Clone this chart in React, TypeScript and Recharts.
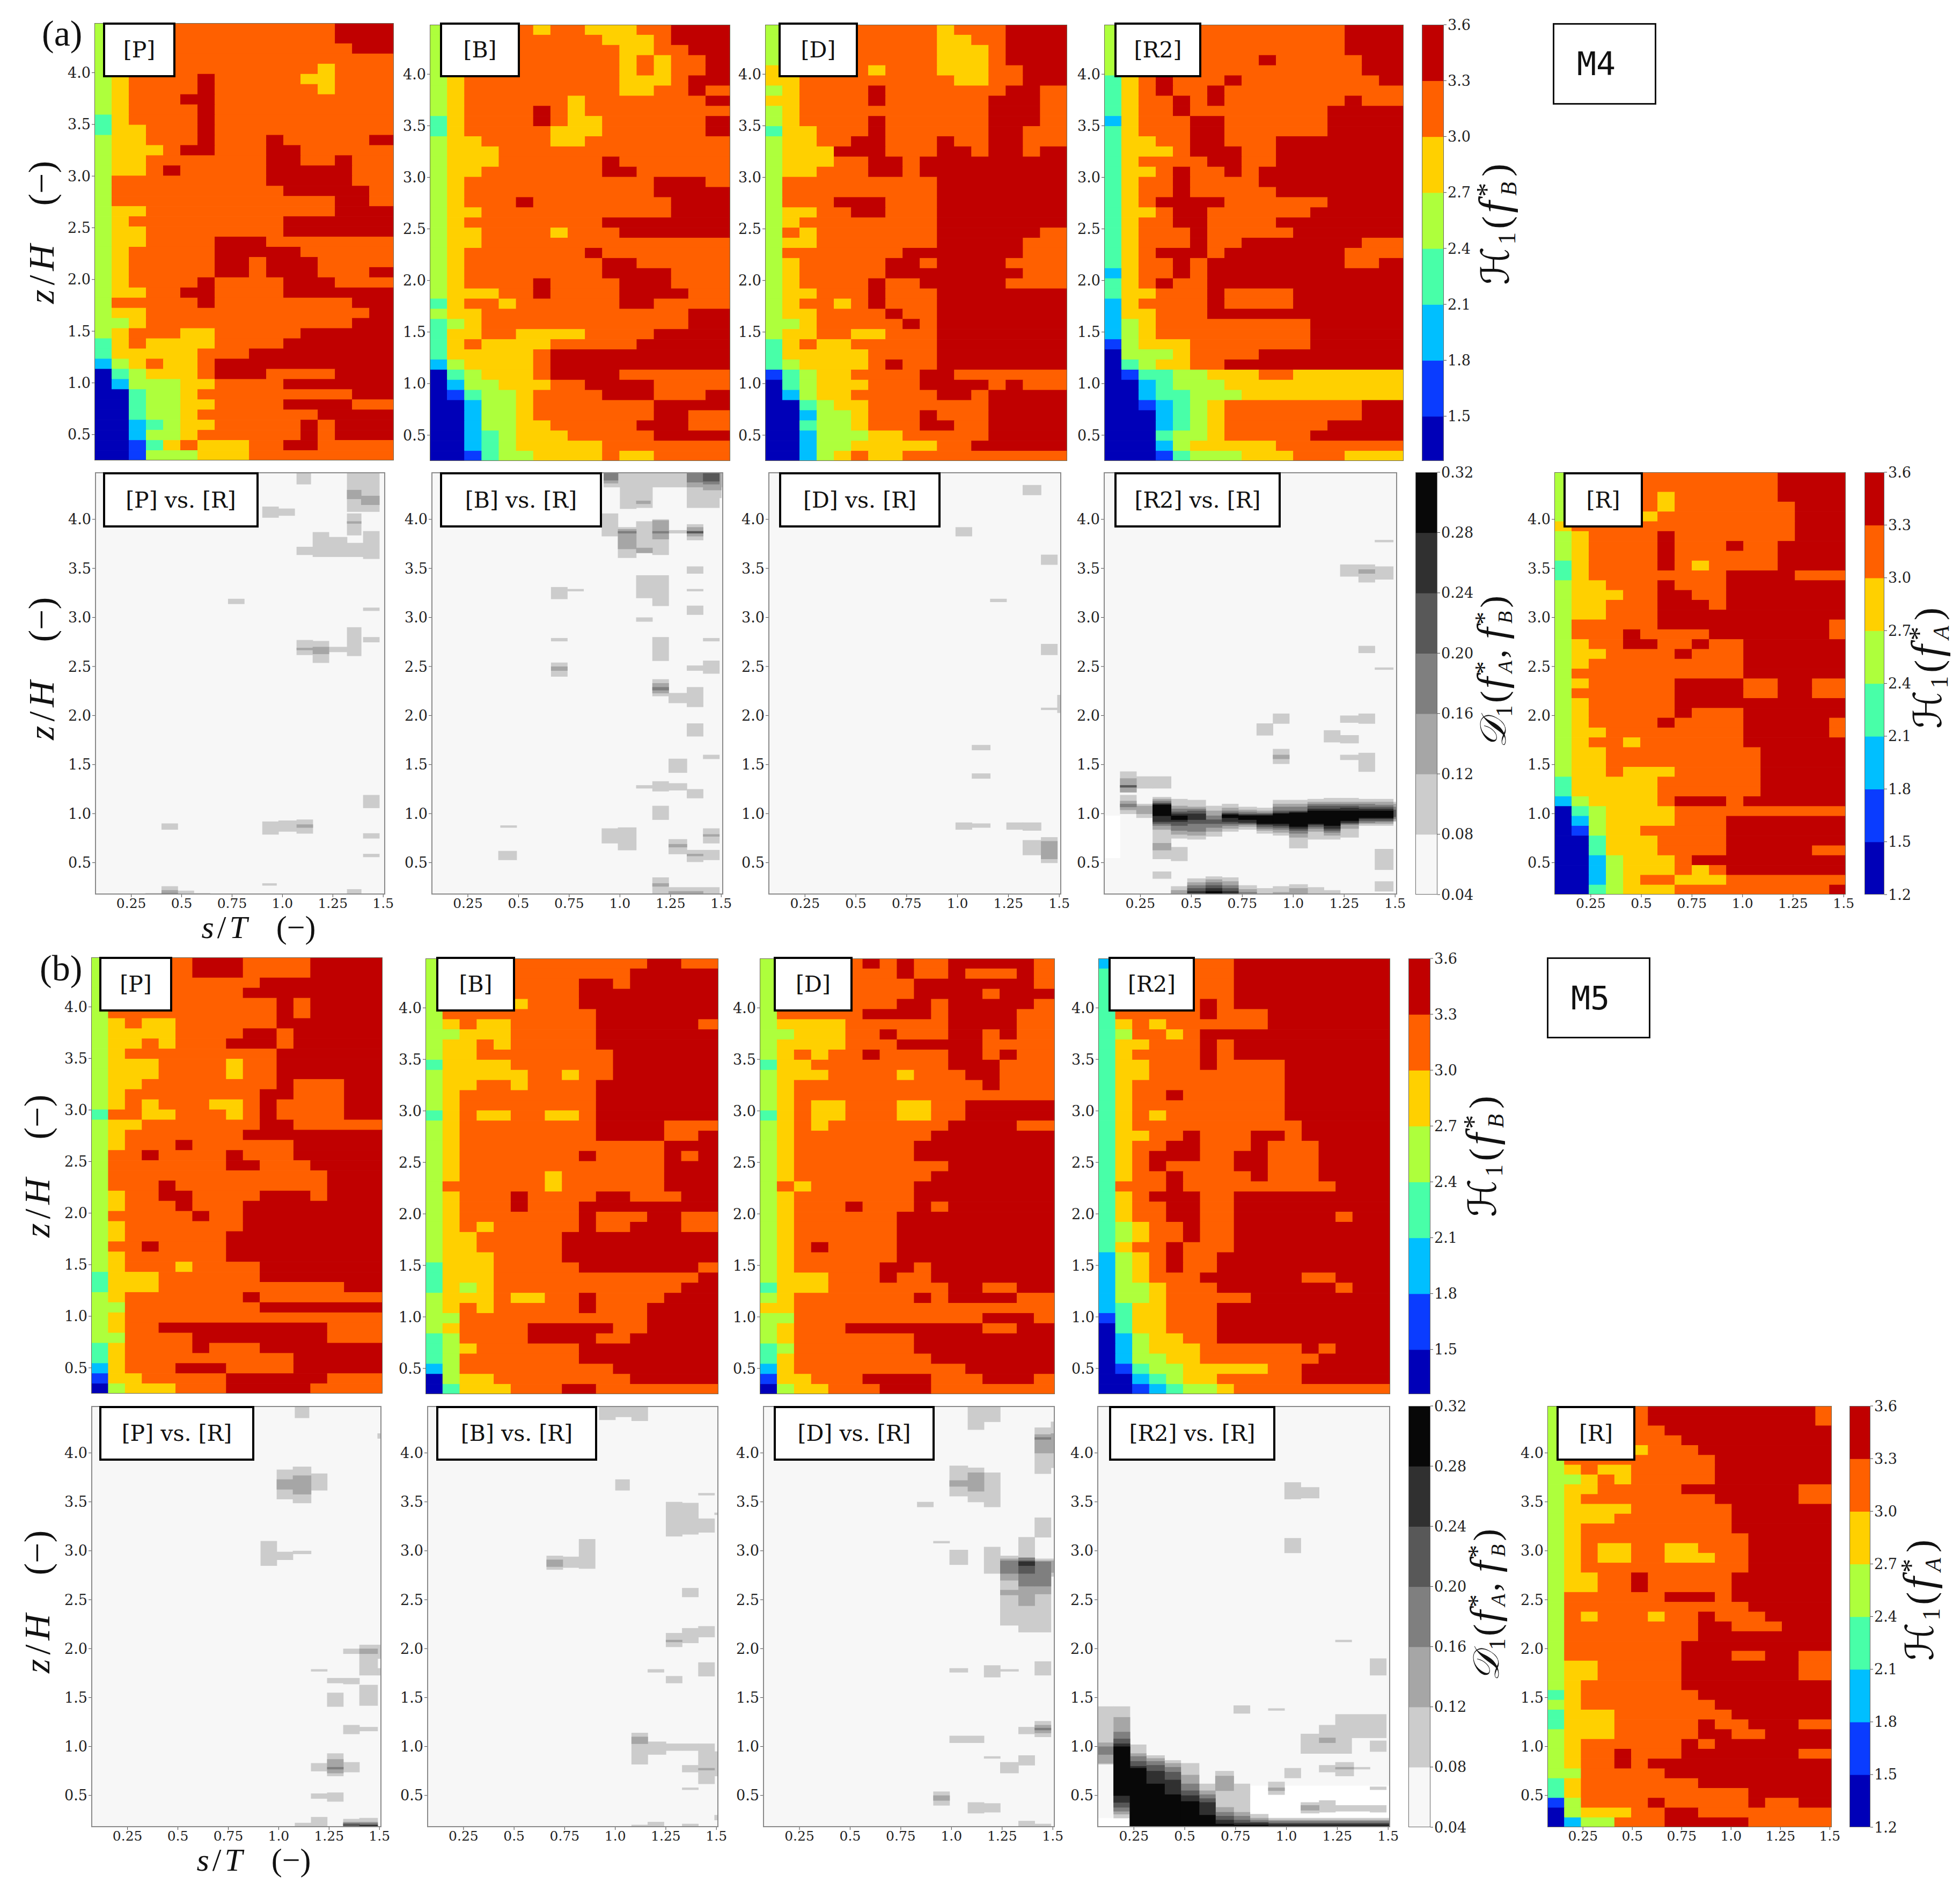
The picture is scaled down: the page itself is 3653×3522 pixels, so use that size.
import { ScatterChart, Scatter, XAxis, YAxis } from "recharts";

// H1 level per cell (top row first, left column first). 0..7 = bands from 1.2 to 3.6
const H_COLORS = ["#0000b8", "#0a3cff", "#00bfff", "#48ffa8", "#aeff3c", "#ffd000", "#ff6000", "#c00000"];
// D1 bands: 1..6 above the base, 7 = below 0.04
const D_COLORS = ["#f7f7f7", "#cccccc", "#a6a6a6", "#7f7f7f", "#585858", "#303030", "#080808", "#ffffff"];

const sTicks = [0.25, 0.5, 0.75, 1.0, 1.25, 1.5];
const sTickLabels = ["0.25", "0.5", "0.75", "1.0", "1.25", "1.5"];
const zTicks = [0.5, 1.0, 1.5, 2.0, 2.5, 3.0, 3.5, 4.0];
const hBarTicks = [1.5, 1.8, 2.1, 2.4, 2.7, 3.0, 3.3, 3.6];
const hBarTicksFull = [1.2, 1.5, 1.8, 2.1, 2.4, 2.7, 3.0, 3.3, 3.6];
const dBarTicks = [0.04, 0.08, 0.12, 0.16, 0.2, 0.24, 0.28, 0.32];

const aP = [
  "466666666666667777","466666666666667777","466666666666666777","466666666666666666","466666666666656666",
  "456666766666556666","456666766666656666","456667766666666666","456666766666666666","356666766666666666",
  "355666766666666666","455666766676666677","455567766677666666","455666666677667666","455676666677777666",
  "466666666677777666","466666666667777766","466666666666667766","455666666666667777","456666666667777777",
  "455666666667777777","455666677766666666","456666677777666666","456666677677766666","456666677677766677",
  "456666766667776666","455667766667777777","466666766666666777","455666666666666677","445666666666666777",
  "456665566666777777","356555566667777777","355555666777777777","245655677777777777","034555677766667777",
  "024445566667777777","003445666666666777","003445566667777666","003445666666677777","002345566666767777",
  "002445666666767777","001356555667766666","001444555666666666",
];
const aB = [
  "466666566555667777","466666666655567777","466666666665566777","466666666665656677","466666666665656677",
  "456666666665556777","456666666665566766","456666665666666677","456666765666666666","356666765566666677",
  "356666655566666677","455666655666666666","455566666666666666","455566666676666666","455666666677666666",
  "456666666666677766","456666666666677777","456667666666667777","455666666666667777","456666666677777777",
  "455666656667777777","455666666666666666","456666666766666666","456666666677666666","456666666677776666",
  "456666766667776666","455566766667777666","356656666667766666","455666666666666777","345666666666666777",
  "355665555666677777","356555566666777777","355555677777777777","245555677777777777","034555677776666666",
  "024455566777766666","013445666677766677","002445666666677777","002445666666677666","002445566666777666",
  "002345556666677777","002345555566666666","001344555565566666",
];
const aD = [
  "466666666656667777","466666666655667777","466666666655567777","466666666655567777","566666566655566777",
  "556666666665566777","456666766666667766","556666766666677766","456666666666677766","456666766666677766",
  "355666766666677666","455667766676677666","455577766677677677","455566776777777777","455666776777777777",
  "466666666677777777","466666666677777777","466677766677777777","455667766677777777","456666666677777777",
  "465666666677777766","455666666677777666","466666667777777666","456666677677776666","456666677777777666",
  "456666766777776666","455666766677777777","456656766677777777","455666676677777777","445666667677777777",
  "455665566677777777","356556666677777777","355555666677777777","345555676677777777","134556666776666666",
  "034555666777767666","024556666677677777","003455666666677777","002445666766677777","003445666776677777",
  "002444556666677777","002445555566777777","002456556666666666",
];
const aR2 = [
  "466666666666667777","466666666666667777","466666666666667777","466666666766666777","466666666666666777",
  "356766676666666677","356766766666666666","356676766666667666","356676666666677777","256667766666677777",
  "356667766666677777","355667766677777777","355567776677777777","356666776677777777","355676676777777777",
  "356676666777777777","356676666677777777","356777766666677777","355677666666777777","356677666677777777",
  "356667666667777777","356667667777777666","356777677777776666","356676777777776677","256676777777777777",
  "356766777777777777","355666766667777777","256666766667777777","255666777777777777","245666666666777777",
  "245666666666777777","145556666666777777","044456666777777777","034556677777777777","013344555665555555",
  "002344455555555555","002334445555555555","001234566666666777","000234566666666777","000234566666677777",
  "000344566666777777","000245555566666666","000134445556665555",
];
const aR = [
  "46666666666667777","46666666666667777","46666656666667777","46666656666666777","46666566666666777",
  "56666666666666777","45666676666666777","45666676667667777","45666676666667777","35666676566667777",
  "35666666667777666","45566676667777777","45556677667777777","45566677767777777","45566677777777777",
  "46666677777777776","46667666677777776","45667766766777777","45566667666777777","45666666666777777",
  "46666666666777777","45666667777667766","46666667777667766","45666667777777777","45666667666777777",
  "45666676666777776","45566666666777776","45665666666777777","45566666666677777","45566666666677777",
  "45565556666677777","35555566666677777","35555566666677777","24555567776777777","03455556666666666",
  "02455556667777777","01455666667777777","00355566667777777","00355566667777766","00245556777777777",
  "00245556567777777","00245665556666666","00345556666666667",
];
const bP = [
  "466666777666677777","466666777666677777","466666666677777777","466666666777777777","466666666667677777",
  "466666666667677777","456556666667777777","455556666776777777","455656667776777777","456666666667777777",
  "455566665667777777","455566665667777777","455666666667666777","456666666677666777","456566655676666777",
  "366556665676666777","455666666677666666","456666666777777777","456667666666777777","466766667666777777",
  "466666667766677777","466666666666667777","466676666666667777","456677666677767777","456667666777777777",
  "466666766777777777","456666666777777777","456666667777777777","466766667777777777","456666667777777777",
  "456665666677777777","355566666677777777","355566666666666777","456666666766666666","446666666677777777",
  "456666666666666666","456677777777776666","446666777777776666","356666766677777777","356666666666777777",
  "256667776666777777","155666667777776666","045556667777766666",
];
const bB = [
  "466666666666677666","466666666666777777","466666666776777777","466666666777777777","466665666777777777",
  "466666666677777777","456556666677777766","445556666677777777","455656666677777777","455666666667777777",
  "355556666667777777","455555665667777777","455665666677777777","456666666677777777","456666666677777777",
  "356556655677777777","456666666677776666","456666666677776677","456666666666667777","456666666766667677",
  "456666666666667777","456666656666667777","466666656666667777","456667666677666777","456667666777777777",
  "456666666766677666","456566666766777666","455666667777777777","455666667777777777","455566667777777777",
  "355566666777777766","355566666666666677","354566666666666777","455565566766667777","456566666766677777",
  "446666666666677777","456666777776677777","346666777766777777","345666666777777777","346666666777777777",
  "246666666667777777","045566666666777777","035556667766666666",
];
const bD = [
  "466666767667777766","466666667667666766","466666666777777766","466666666777767777","466666667767777766",
  "466666777767777666","455556666667777666","445556676667767666","455556667777766666","456566766667767666",
  "355666666667776666","455566665666776666","456666666666676666","456666666666666666","456556665566777777",
  "356556665566777777","456566666667777666","456666666677777777","456666666777777777","456666666777777777",
  "456666666667777777","456666666677777777","465666666777777777","456666666777777777","456667666767777777",
  "456666667777777777","456666667777777777","456666667777777777","456766667777777777","456666667777777777",
  "456666677677777777","455566676677777777","355566666667766777","456666666767777666","556666666666666666",
  "446666666666677766","456667777777766777","456666666777777777","346666666777777777","356666666677777777",
  "256666666666777777","155666777766677766","045566677766666666",
];
const bR2 = [
  "266666667777777777","366666667777777777","366666667777777777","366666667777777777","366666767777777777",
  "366666766677777777","356566666677777777","346656777777777777","355666767777777777","356666767777777777",
  "355666766667777777","355666666667777777","356666666667777777","356676666667777777","356666666667777777",
  "356566666667777777","356666666666777777","355667666776777777","356677666766677777","356777667766677777",
  "356766667766677777","356676666766677777","366676666666667777","356777667777777777","356677667777777777",
  "356677667777776777","345667667777777777","345667667777777777","356676667777777777","245676677777777777",
  "245676677777777777","245666777777667777","244566677777776777","244566666777777777","235566677777777777",
  "135566677777777777","035566677777777777","024556677777777777","024555666666767777","024455666666677777",
  "013445555566777777","002345566666777777","001234456666666666",
];
const bR = [
  "46666677777777776","46666677777777776","46666667777777777","46666666777777777","46666566677777777",
  "46666666667777777","45655666667777777","44565666667777777","45566666777777766","45666666667777766",
  "45555666666777777","45556666666777777","45666666666777777","45666666666677777","45655665566677777",
  "45655665556677777","45666666666677777","45566766666777777","45566766666777777","46666667776777777",
  "46666666666677777","46566656676667777","46666666677666777","46666666677777777","46666666777777777",
  "46666666777667766","45566666777777766","45566666777777766","45666666777777777","35666666677777777",
  "45666666667777777","35556666666777777","35556666676677766","45556666677667777","45666666767777777",
  "45667666777777766","45667677777777777","44666667777777777","35666666677777777","35666666666677777",
  "14666676666676677","04555667766666666","02446667777766666",
];

// D1 patches: [s from, s to, z from, z to, band]
const aPvR = [
  [1.07,1.14,4.36,4.48,1],[1.32,1.48,4.08,4.48,1],[1.32,1.39,4.21,4.3,2],[1.39,1.48,4.15,4.24,2],[0.9,0.98,4.02,4.13,1],[0.98,1.06,4.04,4.11,1],
  [1.32,1.39,3.84,4.06,1],[1.32,1.39,3.96,3.98,2],[1.07,1.15,3.64,3.72,1],[1.15,1.23,3.62,3.87,1],[1.23,1.32,3.62,3.82,1],[1.32,1.4,3.62,3.76,1],[1.4,1.48,3.6,3.88,1],
  [0.73,0.81,3.14,3.19,1],[1.4,1.48,3.07,3.1,1],[1.32,1.39,2.61,2.9,1],[1.4,1.48,2.75,2.8,1],[1.07,1.15,2.62,2.77,1],[1.15,1.23,2.54,2.76,1],[1.15,1.23,2.63,2.7,2],
  [1.23,1.32,2.65,2.7,1],[1.07,1.15,2.67,2.69,2],[1.4,1.48,1.06,1.19,1],[0.4,0.48,0.84,0.9,1],[0.9,0.98,0.79,0.92,1],[0.98,1.07,0.82,0.93,1],[1.07,1.15,0.8,0.94,1],[1.07,1.15,0.86,0.89,2],
  [1.4,1.48,0.75,0.8,1],[1.4,1.48,0.56,0.59,1],[0.9,0.97,0.27,0.29,1],[0.4,0.48,0.175,0.26,1],[0.4,0.48,0.175,0.22,2],[0.4,0.48,0.175,0.19,3],[0.32,0.4,0.175,0.19,1],[0.48,0.56,0.175,0.215,1],[0.56,0.64,0.175,0.19,1],[1.32,1.39,0.175,0.23,1],
];
const aBvR = [
  [0.92,1.51,4.33,4.48,1],[0.92,0.99,4.37,4.48,2],[0.92,0.99,4.4,4.48,3],[1.33,1.41,4.28,4.48,1],[1.33,1.41,4.33,4.48,2],[1.33,1.41,4.38,4.48,3],[1.41,1.5,4.22,4.48,1],[1.41,1.5,4.3,4.48,2],[1.41,1.49,4.36,4.48,3],[1.41,1.49,4.39,4.48,4],
  [1.0,1.08,4.11,4.33,1],[1.08,1.16,4.12,4.33,1],[1.08,1.15,4.16,4.19,2],[1.33,1.49,4.12,4.3,1],[0.91,0.99,3.83,4.06,1],[0.99,1.08,3.61,3.92,1],[0.99,1.08,3.7,3.9,2],[0.99,1.08,3.86,3.88,3],[1.08,1.16,3.66,3.98,1],[1.08,1.16,3.66,3.71,2],
  [1.16,1.24,3.64,4.0,1],[1.16,1.24,3.8,3.99,2],[1.16,1.24,3.86,3.88,3],[1.24,1.33,3.86,3.89,1],[1.33,1.41,3.79,3.95,1],[1.33,1.41,3.83,3.92,2],[1.33,1.41,3.86,3.88,4],
  [1.33,1.41,3.45,3.52,1],[1.08,1.16,3.2,3.43,1],[1.16,1.24,3.12,3.43,1],[0.66,0.74,3.19,3.31,1],[0.74,0.82,3.27,3.29,1],[1.33,1.41,3.27,3.29,1],[1.33,1.41,3.03,3.12,1],[1.08,1.16,2.96,3.0,1],[0.66,0.74,2.76,2.79,1],[1.16,1.24,2.56,2.8,1],[1.41,1.49,2.76,2.79,1],
  [0.66,0.74,2.4,2.54,1],[0.66,0.74,2.46,2.5,2],[1.33,1.41,2.46,2.51,1],[1.41,1.49,2.43,2.56,1],[1.16,1.24,2.2,2.37,1],[1.16,1.24,2.23,2.33,2],[1.16,1.24,2.26,2.29,3],[1.24,1.33,2.13,2.23,1],[1.33,1.41,2.09,2.29,1],
  [1.33,1.41,1.79,1.92,1],[1.41,1.49,1.56,1.6,1],[1.24,1.33,1.42,1.56,1],[1.08,1.16,1.26,1.29,1],[1.16,1.24,1.23,1.33,1],[1.24,1.33,1.24,1.31,1],[1.33,1.41,1.16,1.25,1],[1.16,1.24,0.94,1.08,1],
  [0.41,0.49,0.86,0.88,1],[0.91,0.99,0.7,0.85,1],[0.99,1.08,0.63,0.86,1],[1.41,1.49,0.7,0.85,1],[1.41,1.49,0.77,0.79,2],[1.24,1.33,0.59,0.74,1],[1.24,1.33,0.66,0.69,2],[1.33,1.41,0.51,0.63,1],[1.33,1.41,0.57,0.59,2],[1.41,1.49,0.53,0.63,1],[0.4,0.49,0.53,0.62,1],
  [1.16,1.24,0.175,0.35,1],[1.16,1.24,0.26,0.29,2],[1.24,1.49,0.175,0.25,1],[1.24,1.41,0.175,0.21,2],
];
const aDvR = [
  [1.32,1.41,4.25,4.35,1],[0.99,1.07,3.83,3.92,1],[1.41,1.49,3.54,3.64,1],[1.16,1.24,3.16,3.19,1],[1.41,1.49,2.62,2.73,1],[1.49,1.52,2.03,2.21,1],[1.41,1.49,2.06,2.08,1],
  [1.07,1.16,1.65,1.7,1],[1.07,1.16,1.36,1.41,1],[0.99,1.07,0.84,0.91,1],[1.07,1.16,0.86,0.9,1],[1.24,1.32,0.84,0.91,1],[1.32,1.41,0.83,0.91,1],[1.32,1.41,0.58,0.73,1],[1.41,1.49,0.5,0.76,1],[1.41,1.49,0.54,0.72,2],
];
const aR2vR = [
  [0.07,0.15,0.55,0.98,7],[1.4,1.49,3.77,3.79,1],[1.23,1.32,3.42,3.54,1],[1.32,1.4,3.36,3.54,1],[1.32,1.4,3.45,3.49,2],[1.4,1.49,3.39,3.52,1],[1.32,1.4,2.64,2.71,1],[1.4,1.49,2.47,2.49,1],
  [0.9,0.98,1.92,2.02,1],[0.82,0.9,1.8,1.92,1],[1.23,1.32,1.93,2.0,1],[1.32,1.4,1.92,2.02,1],[1.15,1.23,1.73,1.85,1],[1.23,1.32,1.72,1.8,1],[0.9,0.98,1.51,1.66,1],[0.9,0.98,1.56,1.6,2],[1.23,1.32,1.55,1.6,1],[1.32,1.4,1.43,1.62,1],
  [0.15,0.23,1.22,1.43,1],[0.15,0.23,1.22,1.36,2],[0.15,0.23,1.27,1.29,4],[0.23,0.31,1.26,1.38,1],[0.31,0.4,1.26,1.38,1],[0.31,0.4,0.63,0.8,1],[0.31,0.4,0.63,0.7,2],[0.31,0.4,0.54,0.66,1],[0.4,0.48,0.52,0.66,1],[0.31,0.4,0.34,0.41,1],[1.4,1.49,0.43,0.64,1],[1.4,1.49,0.21,0.31,1],
];
// columns of nested bands: [s from, s to, lo1, hi1, lo2, hi2, ...] band number grows with depth
const aR2vRStacks = [
  [0.15,0.23,1.0,1.19,1.04,1.13,1.07,1.1],[0.23,0.31,0.96,1.1,1.0,1.08],
  [0.31,0.4,0.8,1.17,0.84,1.15,0.88,1.13,0.9,1.11,0.92,1.1,0.98,1.09],[0.4,0.48,0.75,1.15,0.79,1.08,0.83,1.05,0.88,1.02,0.92,1.0,0.94,0.98],
  [0.48,0.57,0.74,1.14,0.78,1.07,0.82,1.05,0.9,1.03,0.94,1.0],[0.57,0.65,0.77,1.08,0.82,1.03,0.86,0.98,0.9,0.94],
  [0.65,0.73,0.82,1.1,0.85,1.06,0.88,1.03,0.9,1.01,0.92,1.0,0.96,0.99],[0.73,0.82,0.84,1.07,0.87,1.04,0.89,1.02,0.9,1.0,0.91,0.99,0.94,0.98],
  [0.82,0.9,0.8,1.06,0.83,1.03,0.85,1.01,0.87,1.0,0.89,0.99,0.9,0.98],[0.9,0.98,0.78,1.14,0.81,1.1,0.84,1.07,0.86,1.03,0.88,1.01,0.9,1.0],
  [0.98,1.07,0.65,1.14,0.76,1.1,0.8,1.07,0.83,1.03,0.85,1.02,0.87,1.01],[1.07,1.15,0.74,1.15,0.82,1.12,0.85,1.1,0.87,1.08,0.89,1.05,0.9,1.03],
  [1.15,1.23,0.74,1.16,0.78,1.12,0.81,1.1,0.83,1.08,0.85,1.05,0.88,1.03],[1.23,1.32,0.76,1.16,0.85,1.12,0.89,1.1,0.9,1.08,0.91,1.06,0.93,1.03],
  [1.32,1.4,0.88,1.15,0.9,1.12,0.91,1.1,0.93,1.07,0.95,1.05,0.96,1.03],[1.4,1.49,0.88,1.15,0.9,1.12,0.92,1.09,0.93,1.07,0.95,1.05,0.96,1.03],[1.49,1.51,0.92,1.12,0.93,1.1,0.95,1.07,0.97,1.04],
  [0.4,0.48,0.175,0.26,0.175,0.22],[0.48,0.57,0.175,0.34,0.175,0.3,0.175,0.27,0.175,0.24,0.175,0.21],[0.57,0.65,0.175,0.36,0.175,0.33,0.175,0.3,0.175,0.27,0.175,0.24,0.175,0.21],
  [0.65,0.73,0.175,0.35,0.175,0.31,0.175,0.27,0.175,0.24,0.175,0.21],[0.73,0.82,0.175,0.27,0.175,0.23,0.175,0.2],[0.82,0.9,0.175,0.24],[0.9,0.98,0.175,0.26,0.175,0.2],[0.98,1.07,0.175,0.28,0.175,0.24],[1.07,1.15,0.175,0.25],[1.15,1.23,0.175,0.22],
];
const bPvR = [
  [1.08,1.15,4.36,4.48,1],[1.49,1.51,4.15,4.2,1],[0.99,1.07,3.53,3.83,1],[0.99,1.07,3.63,3.73,2],[1.07,1.16,3.49,3.86,1],[1.07,1.16,3.58,3.77,2],[1.16,1.24,3.62,3.79,1],
  [0.91,0.99,2.85,3.1,1],[0.99,1.07,2.91,2.99,1],[1.07,1.16,2.97,3.0,1],[1.32,1.4,1.95,2.0,1],[1.4,1.49,1.73,2.04,1],[1.4,1.49,1.95,2.0,2],[1.49,1.51,1.9,2.04,1],[1.49,1.51,1.73,1.8,1],
  [1.16,1.24,1.77,1.79,1],[1.24,1.32,1.65,1.7,1],[1.32,1.4,1.64,1.7,1],[1.24,1.32,1.41,1.55,1],[1.4,1.49,1.42,1.63,1],[1.32,1.4,1.13,1.22,1],[1.4,1.49,1.16,1.2,1],
  [1.16,1.24,0.75,0.83,1],[1.24,1.32,0.7,0.93,1],[1.24,1.32,0.73,0.87,2],[1.24,1.32,0.77,0.79,3],[1.32,1.4,0.74,0.84,1],[1.16,1.24,0.47,0.52,1],[1.24,1.32,0.44,0.53,1],
  [1.08,1.16,0.175,0.22,1],[1.16,1.24,0.175,0.28,1],[1.32,1.4,0.175,0.26,1],[1.32,1.4,0.175,0.23,2],[1.32,1.4,0.175,0.22,3],[1.32,1.4,0.175,0.21,4],[1.4,1.49,0.175,0.27,1],[1.4,1.49,0.175,0.23,2],[1.4,1.49,0.175,0.22,3],[1.4,1.49,0.175,0.2,5],
];
const bBvR = [
  [0.92,1.0,4.34,4.48,1],[1.0,1.08,4.37,4.48,1],[1.08,1.16,4.33,4.48,1],[1.0,1.07,3.62,3.73,1],[1.41,1.49,3.57,3.59,1],[1.49,1.51,3.37,3.39,1],[1.25,1.33,3.15,3.5,1],[1.33,1.41,3.17,3.49,1],[1.41,1.49,3.19,3.33,1],
  [0.82,0.9,2.82,3.12,1],[0.74,0.82,2.83,2.94,1],[0.66,0.74,2.81,2.95,1],[0.66,0.74,2.84,2.91,2],[1.33,1.41,2.53,2.62,1],[1.25,1.33,2.02,2.16,1],[1.25,1.33,2.07,2.09,2],[1.33,1.41,2.06,2.21,1],[1.41,1.49,2.12,2.23,1],
  [1.16,1.24,1.76,1.79,1],[1.25,1.33,1.65,1.72,1],[1.41,1.49,1.72,1.86,1],[1.08,1.16,0.82,1.14,1],[1.08,1.16,1.03,1.1,2],[1.16,1.25,0.92,1.05,1],[1.25,1.33,0.96,1.03,1],[1.33,1.41,0.96,1.03,1],[1.41,1.49,0.62,1.03,1],[1.49,1.51,0.7,0.95,1],[1.33,1.41,0.74,0.81,1],[1.41,1.49,0.76,0.78,2],
  [1.33,1.41,0.56,0.58,1],[1.49,1.51,0.25,0.3,1],[1.08,1.16,0.175,0.2,1],[1.16,1.24,0.175,0.23,1],[1.33,1.41,0.175,0.21,1],
];
const bDvR = [
  [1.08,1.16,4.24,4.48,1],[1.16,1.24,4.32,4.48,1],[1.41,1.49,3.79,4.26,1],[1.41,1.49,4.0,4.19,2],[1.41,1.49,4.14,4.16,3],[1.49,1.51,3.85,4.32,1],[1.49,1.51,4.0,4.2,2],[0.99,1.08,3.56,3.87,1],[0.99,1.08,3.66,3.72,2],[1.08,1.16,3.5,3.85,1],[1.08,1.16,3.61,3.8,2],[1.16,1.24,3.45,3.8,1],
  [0.83,0.91,3.45,3.5,1],[1.41,1.49,3.14,3.34,1],[1.33,1.41,2.95,3.14,1],[0.91,0.99,3.08,3.1,1],[0.99,1.08,2.86,3.01,1],[1.16,1.24,2.77,3.04,1],
  [1.24,1.33,2.24,2.95,1],[1.24,1.33,2.7,2.92,2],[1.24,1.33,2.77,2.9,3],[1.24,1.33,2.55,2.6,2],[1.33,1.41,2.17,2.96,1],[1.33,1.41,2.44,2.93,2],[1.33,1.41,2.64,2.93,3],[1.33,1.41,2.77,2.9,4],[1.33,1.41,2.85,2.89,5],
  [1.41,1.49,2.17,2.92,1],[1.41,1.49,2.56,2.9,2],[1.41,1.49,2.64,2.89,3],[1.49,1.51,2.74,2.92,1],[1.49,1.51,2.78,2.9,2],
  [0.99,1.08,1.76,1.8,1],[1.16,1.24,1.71,1.83,1],[1.24,1.33,1.77,1.79,1],[1.41,1.49,1.73,1.87,1],[1.33,1.41,1.13,1.2,1],[1.41,1.49,1.1,1.26,1],[1.41,1.49,1.14,1.22,2],[1.41,1.49,1.17,1.19,3],[0.99,1.16,1.04,1.11,1],
  [1.16,1.24,0.88,0.9,1],[1.33,1.41,0.81,0.91,1],[1.24,1.33,0.73,0.84,1],[0.91,0.99,0.4,0.54,1],[0.91,0.99,0.45,0.5,2],[1.08,1.16,0.32,0.43,1],[1.16,1.24,0.33,0.42,1],[1.33,1.41,0.175,0.24,1],[1.41,1.49,0.175,0.21,1],
];
const bR2vR = [
  [0.07,0.23,0.175,0.27,7],[0.57,1.51,0.27,0.6,7],[0.99,1.07,3.53,3.7,1],[1.07,1.16,3.54,3.65,1],[0.99,1.07,2.98,3.13,1],[1.24,1.32,2.07,2.09,1],[1.41,1.49,1.73,1.9,1],[0.74,0.82,1.34,1.42,1],[0.91,0.99,1.37,1.39,1],
  [1.16,1.24,0.93,1.22,1],[1.24,1.49,1.09,1.33,1],[1.07,1.16,0.93,1.13,1],[1.24,1.32,0.93,1.09,1],[1.16,1.24,1.04,1.09,2],[1.41,1.49,0.95,1.06,1],[0.99,1.07,0.68,0.78,1],[1.16,1.24,0.74,0.81,1],[1.24,1.33,0.7,0.84,1],[1.24,1.33,0.77,0.79,2],[1.33,1.41,0.77,0.79,1],
  [1.41,1.49,0.56,0.59,1],[0.91,0.99,0.51,0.64,1],[0.91,0.99,0.55,0.58,2],[0.74,0.82,0.51,0.6,1],[1.07,1.16,0.32,0.43,1],[1.07,1.16,0.35,0.4,2],[1.16,1.24,0.33,0.45,1],[1.24,1.41,0.34,0.4,1],[1.41,1.49,0.33,0.4,1],
];
const bR2vRStacks = [
  [0.07,0.15,0.82,1.41,0.83,1.04,0.92,1.0],[0.15,0.23,0.27,1.41,0.31,1.3,0.34,1.15,0.38,1.08,0.43,1.03,0.5,1.0],
  [0.23,0.31,0.175,1.02,0.175,0.93,0.175,0.9,0.175,0.85,0.175,0.8,0.175,0.78],[0.31,0.4,0.175,0.91,0.175,0.88,0.175,0.85,0.175,0.81,0.175,0.75,0.175,0.62],
  [0.4,0.48,0.175,0.86,0.175,0.83,0.175,0.79,0.175,0.74,0.175,0.66,0.175,0.51],[0.48,0.57,0.175,0.83,0.175,0.71,0.175,0.62,0.175,0.55,0.175,0.5,0.175,0.44],
  [0.57,0.65,0.175,0.62,0.175,0.55,0.175,0.51,0.175,0.47,0.175,0.43,0.175,0.3],[0.65,0.74,0.175,0.75,0.175,0.38,0.175,0.33,0.175,0.29,0.175,0.25,0.175,0.21],
  [0.65,0.74,0.55,0.7,0.55,0.7],[0.74,0.82,0.175,0.62,0.175,0.33,0.175,0.29,0.175,0.25,0.175,0.22,0.175,0.2],[0.82,0.91,0.175,0.31,0.175,0.27,0.175,0.25,0.175,0.23,0.175,0.22,0.175,0.2],
  [0.91,1.51,0.175,0.27,0.175,0.25,0.175,0.24,0.175,0.22,0.175,0.21,0.175,0.19],
];

const S_MIN = 0.07;
const S_MAX = 1.51;
const Z_TOP = 4.48;
const SERIF = "'Liberation Serif', serif";
const TICK_FONT = "'DejaVu Serif', serif";

function gridCells(rows, ds, zMin) {
  const dz = (Z_TOP - zMin) / rows.length;
  const cells = [];
  rows.forEach((row, r) => {
    let c = 0;
    while (c < row.length) {
      let end = c;
      while (end + 1 < row.length && row[end + 1] === row[c]) end++;
      const s0 = S_MIN + c * ds;
      const s1 = end === row.length - 1 ? S_MAX : Math.min(S_MAX, S_MIN + (end + 1) * ds);
      const z1 = Z_TOP - r * dz;
      cells.push({ x: (s0 + s1) / 2, y: z1 - dz / 2, w: s1 - s0, h: dz, color: H_COLORS[+row[c]] });
      c = end + 1;
    }
  });
  return cells;
}

function patchCells(patches, stacks, zMin) {
  const list = [...patches];
  (stacks || []).forEach((st) => {
    for (let i = 2; i < st.length; i += 2) list.push([st[0], st[1], st[i], st[i + 1], i / 2]);
  });
  const order = (b) => (b === 7 ? 0 : b);
  list.sort((a, b) => order(a[4]) - order(b[4]));
  const cells = [{ x: (S_MIN + S_MAX) / 2, y: (zMin + Z_TOP) / 2, w: S_MAX - S_MIN, h: Z_TOP - zMin, color: D_COLORS[0] }];
  list.forEach(([s0, s1, z0, z1, band]) => {
    const a = Math.min(s1, S_MAX);
    cells.push({ x: (s0 + a) / 2, y: (z0 + z1) / 2, w: a - s0, h: z1 - z0, color: D_COLORS[band] });
  });
  return cells;
}

function barCells(edges, colors) {
  return colors.map((color, i) => ({
    x: 0.5,
    y: (edges[i] + edges[i + 1]) / 2,
    w: 1,
    h: edges[i + 1] - edges[i],
    color,
  }));
}

const hEdges = [1.2, 1.5, 1.8, 2.1, 2.4, 2.7, 3.0, 3.3, 3.6];
// the upper colour bars stop a little above 1.2
const hEdgesCut = [1.26, 1.5, 1.8, 2.1, 2.4, 2.7, 3.0, 3.3, 3.6];
const dEdges = [0.04, 0.08, 0.12, 0.16, 0.2, 0.24, 0.28, 0.32];

function Panel({ x, y, w, h, cells, xDomain, yDomain, xTicks, yTicks, yDigits, right, light }) {
  const GUT = 90;
  const TOP = 24;
  const BOTTOM = xTicks ? 52 : 24;
  const pxX = w / (xDomain[1] - xDomain[0]);
  const pxY = h / (yDomain[1] - yDomain[0]);
  const shape = (p) => {
    const W = p.payload.w * pxX;
    const H = p.payload.h * pxY;
    return <rect x={p.cx - W / 2} y={p.cy - H / 2} width={W + 0.7} height={H + 0.7} fill={p.payload.color} />;
  };
  return (
    <div style={{ position: "absolute", left: right ? x : x - GUT, top: y - TOP }}>
      <ScatterChart
        width={w + GUT + (right ? 0 : 30)}
        height={h + TOP + BOTTOM}
        margin={{ top: TOP, right: right ? 0 : 30, bottom: xTicks ? 0 : BOTTOM, left: 0 }}
      >
        <XAxis
          type="number"
          dataKey="x"
          domain={xDomain}
          allowDataOverflow
          hide={!xTicks}
          ticks={xTicks}
          interval={0}
          height={BOTTOM}
          axisLine={false}
          tickSize={5}
          tickLine={{ stroke: "#444" }}
          tick={{ fontFamily: TICK_FONT, fontSize: 25, fill: "#222" }}
          tickFormatter={(v) => sTickLabels[sTicks.indexOf(v)] ?? String(v)}
        />
        <YAxis
          type="number"
          dataKey="y"
          domain={yDomain}
          allowDataOverflow
          orientation={right ? "right" : "left"}
          width={GUT}
          ticks={yTicks}
          interval={0}
          axisLine={false}
          tickSize={5}
          tickMargin={2}
          tickLine={{ stroke: "#444" }}
          tick={{ fontFamily: TICK_FONT, fontSize: 27, fill: "#222" }}
          tickFormatter={(v) => v.toFixed(yDigits)}
        />
        <Scatter data={cells} shape={shape} isAnimationActive={false} />
      </ScatterChart>
      <div
        style={{
          position: "absolute",
          left: right ? 0 : GUT,
          top: TOP,
          width: w,
          height: h,
          boxSizing: "border-box",
          border: right ? "1px solid #666" : light ? "2.5px solid #8a8a8a" : "1.5px solid #6a6a55",
          pointerEvents: "none",
        }}
      />
    </div>
  );
}

function Box({ x, y, w, h, text, mono }) {
  return (
    <div
      style={{
        position: "absolute",
        left: x,
        top: y,
        width: w,
        height: h,
        boxSizing: "border-box",
        border: mono ? "3px solid #111" : "4px solid #000",
        background: "#fff",
        display: "flex",
        alignItems: "center",
        justifyContent: mono ? "flex-start" : "center",
        paddingLeft: mono ? 42 : 0,
        fontFamily: mono ? "'DejaVu Sans Mono', monospace" : TICK_FONT,
        fontSize: mono ? 60 : 41,
        color: "#111",
        whiteSpace: "pre",
      }}
    >
      {text}
    </div>
  );
}

const hRowTop = [0.25, 4.48];
const dRowTop = [0.175, 4.48];

const hPanels = [
  { x: 176, y: 43, w: 558, h: 815, rows: aP, ds: 0.0826, zMin: 0.25 },
  { x: 801, y: 46, w: 560, h: 813, rows: aB, ds: 0.0826, zMin: 0.25 },
  { x: 1426, y: 46, w: 563, h: 813, rows: aD, ds: 0.0819, zMin: 0.25 },
  { x: 2058, y: 46, w: 558, h: 813, rows: aR2, ds: 0.0826, zMin: 0.25 },
  { x: 2897, y: 880, w: 543, h: 787, rows: aR, ds: 0.0849, zMin: 0.175 },
  { x: 170, y: 1784, w: 543, h: 813, rows: bP, ds: 0.0833, zMin: 0.25 },
  { x: 793, y: 1786, w: 546, h: 812, rows: bB, ds: 0.0838, zMin: 0.25 },
  { x: 1416, y: 1786, w: 550, h: 812, rows: bD, ds: 0.0836, zMin: 0.25 },
  { x: 2047, y: 1786, w: 544, h: 812, rows: bR2, ds: 0.0836, zMin: 0.25 },
  { x: 2884, y: 2620, w: 530, h: 785, rows: bR, ds: 0.0848, zMin: 0.175 },
];

const dPanels = [
  { x: 177, y: 880, w: 541, h: 787, patches: aPvR },
  { x: 804, y: 880, w: 544, h: 787, patches: aBvR },
  { x: 1432, y: 880, w: 546, h: 787, patches: aDvR },
  { x: 2057, y: 880, w: 547, h: 787, patches: aR2vR, stacks: aR2vRStacks },
  { x: 170, y: 2620, w: 541, h: 785, patches: bPvR },
  { x: 796, y: 2620, w: 543, h: 785, patches: bBvR },
  { x: 1422, y: 2620, w: 544, h: 785, patches: bDvR },
  { x: 2045, y: 2620, w: 546, h: 785, patches: bR2vR, stacks: bR2vRStacks },
];

const hBars = [
  { x: 2650, y: 46, w: 41, h: 813, ticks: hBarTicks, edges: hEdgesCut },
  { x: 2625, y: 1786, w: 41, h: 812, ticks: hBarTicks, edges: hEdgesCut },
  { x: 3475, y: 880, w: 37, h: 787, ticks: hBarTicksFull, edges: hEdges },
  { x: 3447, y: 2620, w: 39, h: 785, ticks: hBarTicksFull, edges: hEdges },
];
const dBars = [
  { x: 2638, y: 880, w: 41, h: 787 },
  { x: 2625, y: 2620, w: 41, h: 785 },
];

const boxes = [
  { x: 192, y: 42, w: 135, h: 102, text: "[P]" },
  { x: 820, y: 42, w: 149, h: 102, text: "[B]" },
  { x: 1451, y: 42, w: 148, h: 102, text: "[D]" },
  { x: 2077, y: 42, w: 162, h: 102, text: "[R2]" },
  { x: 192, y: 880, w: 290, h: 103, text: "[P] vs. [R]" },
  { x: 820, y: 880, w: 302, h: 103, text: "[B] vs. [R]" },
  { x: 1452, y: 880, w: 301, h: 103, text: "[D] vs. [R]" },
  { x: 2077, y: 880, w: 310, h: 103, text: "[R2] vs. [R]" },
  { x: 2914, y: 880, w: 148, h: 103, text: "[R]" },
  { x: 185, y: 1783, w: 136, h: 102, text: "[P]" },
  { x: 813, y: 1783, w: 147, h: 102, text: "[B]" },
  { x: 1442, y: 1783, w: 147, h: 102, text: "[D]" },
  { x: 2066, y: 1783, w: 161, h: 102, text: "[R2]" },
  { x: 185, y: 2620, w: 289, h: 102, text: "[P] vs. [R]" },
  { x: 813, y: 2620, w: 300, h: 102, text: "[B] vs. [R]" },
  { x: 1442, y: 2620, w: 300, h: 102, text: "[D] vs. [R]" },
  { x: 2067, y: 2620, w: 310, h: 102, text: "[R2] vs. [R]" },
  { x: 2901, y: 2620, w: 147, h: 102, text: "[R]" },
  { x: 2894, y: 43, w: 193, h: 152, text: "M4", mono: true },
  { x: 2883, y: 1784, w: 193, h: 151, text: "M5", mono: true },
];

function Sym({ x, y, children, size = 72 }) {
  // rotated math label, children are tspans
  return (
    <text
      transform={`rotate(-90 ${x} ${y})`}
      x={x}
      y={y}
      textAnchor="middle"
      fontFamily={SERIF}
      fontSize={size}
      fill="#111"
    >
      {children}
    </text>
  );
}

function HLabel({ x, y, sub }) {
  return (
    <Sym x={x} y={y}>
      <tspan fontFamily="'DejaVu Sans', serif" fontStyle="italic">ℋ</tspan>
      <tspan fontSize={46} dy={12} dx={4}>1</tspan>
      <tspan dy={-12} dx={6}>(</tspan>
      <tspan fontSize={80} fontStyle="italic" dx={6}>f</tspan>
      <tspan fontSize={52} dy={-24} dx={8}>*</tspan>
      <tspan fontSize={42} fontStyle="italic" dy={38} dx={-24}>{sub}</tspan>
      <tspan dy={-14} dx={10}>)</tspan>
    </Sym>
  );
}

function DLabel({ x, y }) {
  return (
    <Sym x={x} y={y} size={68}>
      <tspan fontFamily="'DejaVu Sans', serif" fontStyle="italic">𝒟</tspan>
      <tspan fontSize={44} dy={12} dx={4}>1</tspan>
      <tspan dy={-12} dx={4}>(</tspan>
      <tspan fontSize={76} fontStyle="italic" dx={4}>f</tspan>
      <tspan fontSize={48} dy={-24} dx={6}>*</tspan>
      <tspan fontSize={38} fontStyle="italic" dy={36} dx={-22}>A</tspan>
      <tspan dy={-12} dx={4}>, </tspan>
      <tspan fontSize={76} fontStyle="italic" dx={2}>f</tspan>
      <tspan fontSize={48} dy={-24} dx={6}>*</tspan>
      <tspan fontSize={38} fontStyle="italic" dy={36} dx={-22}>B</tspan>
      <tspan dy={-12} dx={6}>)</tspan>
    </Sym>
  );
}

function ZLabel({ x, y }) {
  return (
    <Sym x={x} y={y} size={68}>
      <tspan fontStyle="italic">z</tspan>
      <tspan dx={8}>/</tspan>
      <tspan fontStyle="italic" dx={8}>H</tspan>
      <tspan dx={72}>(−)</tspan>
    </Sym>
  );
}

function SLabel({ x, y }) {
  return (
    <text x={x} y={y} textAnchor="middle" fontFamily={SERIF} fontSize={60} fill="#111">
      <tspan fontStyle="italic">s</tspan>
      <tspan dx={6}>/</tspan>
      <tspan fontStyle="italic" dx={6}>T</tspan>
      <tspan dx={54}>(−)</tspan>
    </text>
  );
}

export default function App() {
  return (
    <div style={{ position: "absolute", left: 0, top: 0, width: 3653, height: 3522, background: "#fff", overflow: "hidden" }}>
      {hPanels.map((p, i) => (
        <Panel
          key={"h" + i}
          x={p.x}
          y={p.y}
          w={p.w}
          h={p.h}
          cells={gridCells(p.rows, p.ds, p.zMin)}
          xDomain={[S_MIN, S_MAX]}
          yDomain={p.zMin === 0.25 ? hRowTop : dRowTop}
          xTicks={p.zMin === 0.25 ? undefined : sTicks}
          yTicks={zTicks}
          yDigits={1}
        />
      ))}
      {dPanels.map((p, i) => (
        <Panel
          key={"d" + i}
          light
          x={p.x}
          y={p.y}
          w={p.w}
          h={p.h}
          cells={patchCells(p.patches, p.stacks, 0.175)}
          xDomain={[S_MIN, S_MAX]}
          yDomain={dRowTop}
          xTicks={sTicks}
          yTicks={zTicks}
          yDigits={1}
        />
      ))}
      {hBars.map((b, i) => (
        <Panel
          key={"hb" + i}
          right
          x={b.x}
          y={b.y}
          w={b.w}
          h={b.h}
          cells={barCells(b.edges, H_COLORS)}
          xDomain={[0, 1]}
          yDomain={[b.edges[0], 3.6]}
          yTicks={b.ticks}
          yDigits={1}
        />
      ))}
      {dBars.map((b, i) => (
        <Panel
          key={"db" + i}
          right
          x={b.x}
          y={b.y}
          w={b.w}
          h={b.h}
          cells={barCells(dEdges, D_COLORS.slice(0, 7))}
          xDomain={[0, 1]}
          yDomain={[0.04, 0.32]}
          yTicks={dBarTicks}
          yDigits={2}
        />
      ))}
      {boxes.map((b, i) => (
        <Box key={"b" + i} {...b} />
      ))}
      <svg width={3653} height={3522} style={{ position: "absolute", left: 0, top: 0, pointerEvents: "none" }}>
        <text x={78} y={85} fontFamily={SERIF} fontSize={68} fill="#111">(a)</text>
        <text x={74} y={1827} fontFamily={SERIF} fontSize={68} fill="#111">(b)</text>
        <ZLabel x={100} y={433} />
        <ZLabel x={100} y={1246} />
        <ZLabel x={92} y={2173} />
        <ZLabel x={92} y={2985} />
        <SLabel x={482} y={1748} />
        <SLabel x={473} y={3486} />
        <HLabel x={2812} y={418} sub="B" />
        <DLabel x={2806} y={1252} />
        <HLabel x={3618} y={1245} sub="A" />
        <HLabel x={2788} y={2155} sub="B" />
        <DLabel x={2793} y={2991} />
        <HLabel x={3603} y={2982} sub="A" />
      </svg>
    </div>
  );
}
